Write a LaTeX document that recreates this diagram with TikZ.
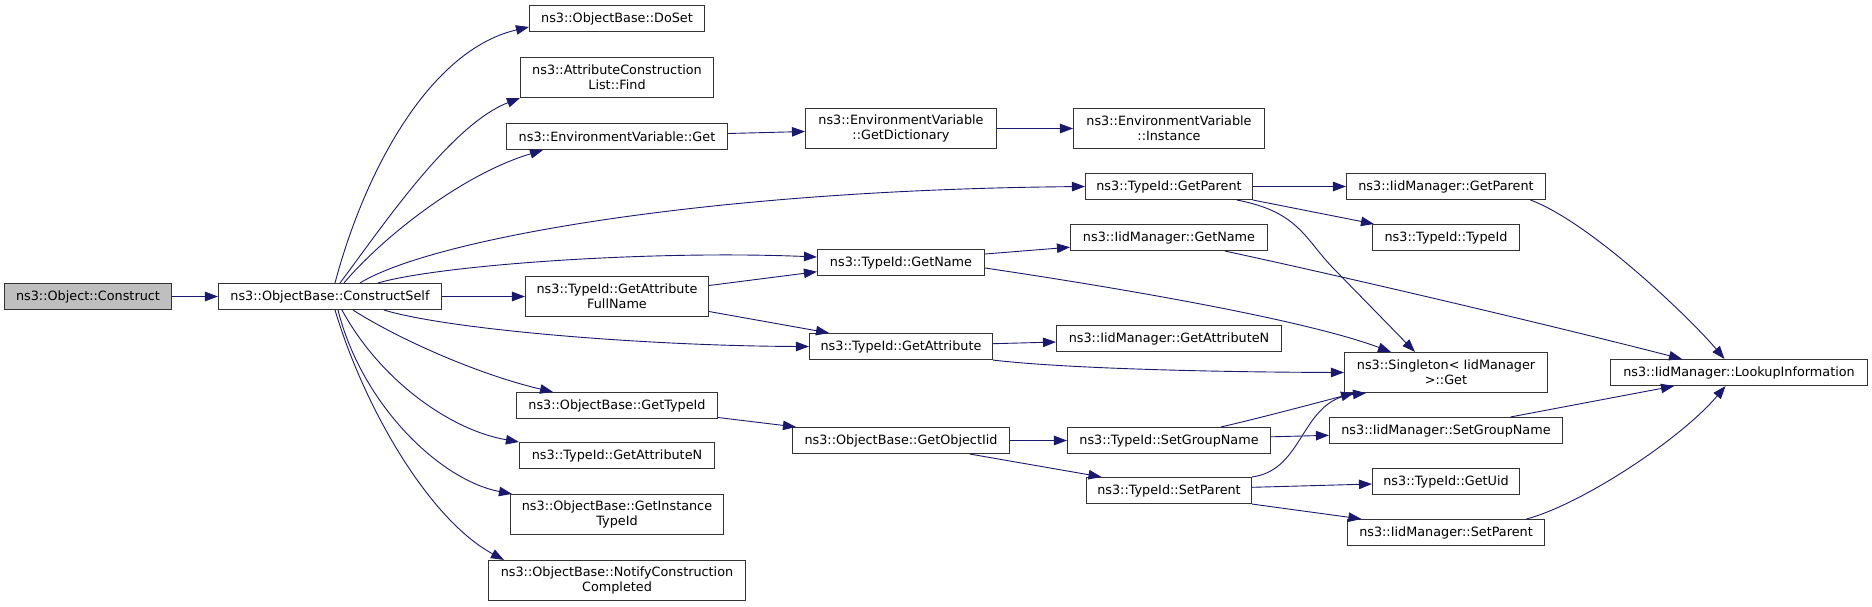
\documentclass[tikz,border=0pt]{standalone}
\usepackage{fontspec}
\setmainfont{DejaVu Sans}
\usetikzlibrary{arrows.meta}
\definecolor{edgeblue}{HTML}{191970}
\definecolor{boxborder}{HTML}{333333}
\definecolor{grayfill}{HTML}{BFBFBF}
\begin{document}
\begin{tikzpicture}[x=1pt,y=-1pt,
  box/.style={draw=boxborder, line width=1.1pt, fill=white, inner sep=0pt, align=center,
    font=\fontsize{12.8pt}{15.2pt}\selectfont, minimum height=26pt},
  boxtwo/.style={box, minimum height=40pt},
  edge/.style={draw=edgeblue, line width=0.9pt, -{Triangle[length=13pt,width=9.5pt]}}]
\useasboundingbox[fill=white] (0,0) rectangle (1872,606);

% nodes
\node[box, minimum width=167pt, fill=grayfill] (construct) at (88,296.5) {ns3::Object::Construct};
\node[box, minimum width=223pt] (cself) at (330,296.5) {ns3::ObjectBase::ConstructSelf};

\node[box, minimum width=175pt] (doset) at (617,18.5) {ns3::ObjectBase::DoSet};
\node[boxtwo, minimum width=193pt] (find) at (617,77.5) {ns3::AttributeConstruction\\List::Find};
\node[box, minimum width=221pt] (envget) at (617,136.5) {ns3::EnvironmentVariable::Get};
\node[boxtwo, minimum width=183pt] (fullname) at (617,296.5) {ns3::TypeId::GetAttribute\\FullName};
\node[box, minimum width=201pt] (gettypeid) at (617,405.5) {ns3::ObjectBase::GetTypeId};
\node[box, minimum width=195pt] (tgetattrn) at (617,455.5) {ns3::TypeId::GetAttributeN};
\node[boxtwo, minimum width=213pt] (insttypeid) at (617,514.5) {ns3::ObjectBase::GetInstance\\TypeId};
\node[boxtwo, minimum width=257pt] (notify) at (617,580.5) {ns3::ObjectBase::NotifyConstruction\\Completed};

\node[boxtwo, minimum width=191pt] (getdict) at (901,128.5) {ns3::EnvironmentVariable\\::GetDictionary};
\node[box, minimum width=167pt] (tgetname) at (901,262.5) {ns3::TypeId::GetName};
\node[box, minimum width=183pt] (tgetattr) at (901,346.5) {ns3::TypeId::GetAttribute};
\node[box, minimum width=217pt] (getobjiid) at (901,440.5) {ns3::ObjectBase::GetObjectIid};

\node[boxtwo, minimum width=191pt] (instance) at (1169,128.5) {ns3::EnvironmentVariable\\::Instance};
\node[box, minimum width=167pt] (tgetparent) at (1169,186.5) {ns3::TypeId::GetParent};
\node[box, minimum width=197pt] (igetname) at (1169,237.5) {ns3::IidManager::GetName};
\node[box, minimum width=225pt] (igetattrn) at (1169,338.5) {ns3::IidManager::GetAttributeN};
\node[box, minimum width=203pt] (tsetgroup) at (1169,440.5) {ns3::TypeId::SetGroupName};
\node[box, minimum width=165pt] (tsetparent) at (1169,490.5) {ns3::TypeId::SetParent};

\node[box, minimum width=199pt] (igetparent) at (1446,186.5) {ns3::IidManager::GetParent};
\node[box, minimum width=147pt] (typeid) at (1446,237.5) {ns3::TypeId::TypeId};
\node[boxtwo, minimum width=203pt] (singleton) at (1446,372.5) {ns3::Singleton< IidManager\\>::Get};
\node[box, minimum width=233pt] (isetgroup) at (1446,430.5) {ns3::IidManager::SetGroupName};
\node[box, minimum width=147pt] (getuid) at (1446,481.5) {ns3::TypeId::GetUid};
\node[box, minimum width=197pt] (isetparent) at (1446,532.5) {ns3::IidManager::SetParent};

\node[box, minimum width=257pt] (lookup) at (1739,372.5) {ns3::IidManager::LookupInformation};

% edges
\draw[edge] (construct.east) -- (cself.west);
\draw[edge] ([xshift=5pt]cself.north) .. controls (365,170) and (430,50) .. ([yshift=-8.5pt]doset.west);
\draw[edge] ([xshift=10pt]cself.north) .. controls (380,230) and (450,125) .. (find.south west);
\draw[edge] ([xshift=14pt]cself.north) .. controls (380,240) and (460,175) .. ([xshift=-74pt]envget.south);
\draw[edge] ([xshift=30pt]cself.north) .. controls (430,240) and (700,190) .. (tgetparent.west);
\draw[edge] ([xshift=48pt]cself.north) .. controls (440,265) and (650,250) .. ([yshift=5.5pt]tgetname.west);
\draw[edge] (cself.east) -- (fullname.west);
\draw[edge] ([xshift=54pt]cself.south) .. controls (450,330) and (650,346) .. (tgetattr.west);
\draw[edge] ([xshift=23pt]cself.south) .. controls (400,340) and (480,375) .. ([xshift=-64pt]gettypeid.north);
\draw[edge] ([xshift=12pt]cself.south) .. controls (380,380) and (450,430) .. (tgetattrn.north west);
\draw[edge] ([xshift=8pt]cself.south) .. controls (362,405) and (440,480) .. ([xshift=2pt]insttypeid.north west);
\draw[edge] ([xshift=5pt]cself.south) .. controls (365,410) and (430,520) .. ([xshift=16pt]notify.north west);

\draw[edge] ([yshift=3pt]envget.east) -- ([yshift=-3pt]getdict.west);
\draw[edge] (getdict.east) -- (instance.west);

\draw[edge] (tgetparent.east) -- (igetparent.west);
\draw[edge] (tgetparent.south east) -- ([xshift=2pt]typeid.north west);
\draw[edge] ([xshift=68pt]tgetparent.south) .. controls (1300,212) and (1305,240) .. (1335,270) -- ([xshift=-31pt]singleton.north);
\draw[edge] ([xshift=84.5pt]igetparent.south) .. controls (1590,222) and (1690,318) .. ([xshift=-14.5pt]lookup.north);

\draw[edge] ([yshift=8.5pt]tgetname.east) -- ([yshift=-9.7pt]igetname.west);
\draw[edge] ([yshift=-5.5pt]tgetname.east) .. controls (1100,285) and (1300,318) .. ([xshift=-55pt]singleton.north);
\draw[edge] ([xshift=56pt]igetname.south) .. controls (1350,278) and (1550,325) .. ([xshift=-57pt]lookup.north);

\draw[edge] ([yshift=11pt]fullname.east) -- ([yshift=-9.2pt]tgetname.west);
\draw[edge] ([yshift=-15pt]fullname.east) -- ([xshift=-72pt]tgetattr.north);

\draw[edge] ([yshift=2.8pt]tgetattr.east) -- ([yshift=-3.5pt]igetattrn.west);
\draw[edge] (tgetattr.south east) .. controls (1060,368) and (1200,372) .. (singleton.west);

\draw[edge] ([yshift=-12pt]gettypeid.east) -- ([xshift=4pt]getobjiid.north west);
\draw[edge] (getobjiid.east) -- (tsetgroup.west);
\draw[edge] ([xshift=69pt]getobjiid.south) -- ([xshift=-67.5pt]tsetparent.north);

\draw[edge] ([xshift=52pt]tsetgroup.north) .. controls (1260,418) and (1320,402) .. ([xshift=-92pt]singleton.south);
\draw[edge] ([yshift=3.7pt]tsetgroup.east) -- ([yshift=-4.8pt]isetgroup.west);
\draw[edge] ([xshift=64.6pt]isetgroup.north) -- ([xshift=-65pt]lookup.south);

\draw[edge] (tsetparent.north east) .. controls (1305,470) and (1300,400) .. ([xshift=-80pt]singleton.south);
\draw[edge] ([yshift=3.2pt]tsetparent.east) -- ([yshift=-2.5pt]getuid.west);
\draw[edge] (tsetparent.south east) -- ([xshift=-84.6pt]isetparent.north);
\draw[edge] ([xshift=80.5pt]isetparent.north) .. controls (1580,505) and (1680,440) .. ([xshift=-13.5pt]lookup.south);
\end{tikzpicture}
\end{document}
